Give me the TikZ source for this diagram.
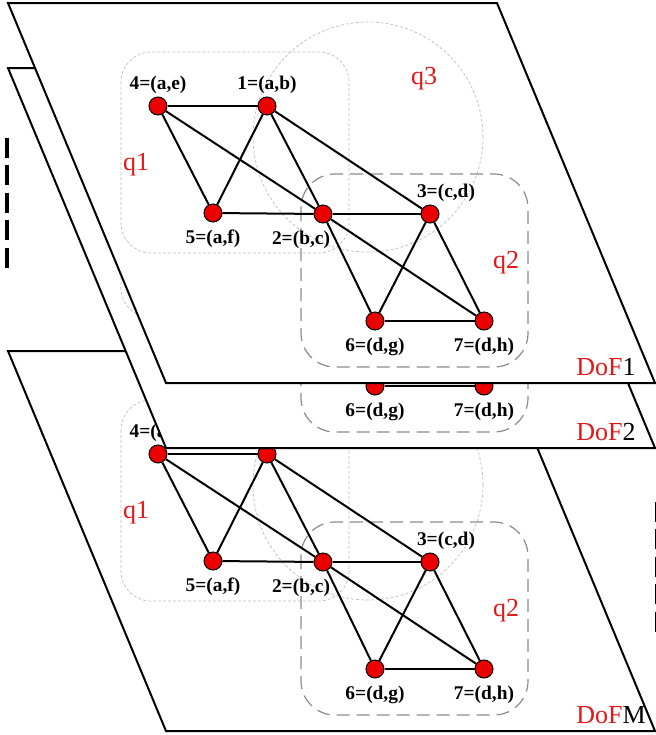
\documentclass[tikz,border=0pt]{standalone}
\usepackage{fontspec}
\setmainfont{Liberation Serif}
\usetikzlibrary{positioning}
\definecolor{vertexred}{RGB}{235,0,0}
\definecolor{qred}{RGB}{225,25,25}
\tikzset{
  layerplane/.style={
    draw=black,
    fill=white,
    line width=1pt
  },
  vertex/.style={
    circle,
    draw=black,
    fill=vertexred,
    line width=0.5pt,
    minimum size=9pt,
    inner sep=0pt
  },
  edgeline/.style={
    line width=1pt
  },
  vlabel/.style={
    font=\bfseries\fontsize{9.7}{11}\selectfont,
    inner sep=1pt
  },
  softregion/.style={
    draw=black!25,
    line width=0.35pt,
    dash pattern=on 1.5pt off 1pt
  },
  hardregion/.style={
    draw=black!45,
    line width=0.6pt,
    dash pattern=on 6.5pt off 3.5pt,
    rounded corners=17pt
  },
  qlabel/.style={
    text=qred,
    font=\fontsize{13}{15}\selectfont,
    inner sep=0pt
  },
  doflabel/.style={
    anchor=west,
    font=\fontsize{13}{15}\selectfont,
    inner sep=0pt
  },
  gapdash/.style={
    line width=1.6pt,
    dash pattern=on 10pt off 3.7pt
  }
}

\begin{document}
\begin{tikzpicture}[x=0.5pt, y=-0.5pt]
  \useasboundingbox (0,0) rectangle (656,735);
  \clip (0,0) rectangle (656,735);
  % layers, lowest first
  \foreach \lay/\dy in {M/348, 2/65, 1/0} {
    \begin{scope}[shift={(0,\dy)}]
      \draw[layerplane] (8,3) -- (497,3) -- (655,383) -- (166,383) -- cycle;
      \draw[softregion, rounded corners=15pt] (121,52) rectangle (349,253);
      \draw[softregion] (368,137) circle[radius=57.5pt];
      \draw[hardregion] (301,174) rectangle (528,367);
      \node[qlabel] (q1-\lay) at (136,165) {q1};
      \node[qlabel] (q3-\lay) at (424,79) {q3};
      \node[qlabel] (q2-\lay) at (506,263) {q2};
      \node[doflabel] (dof-\lay) at (576,367) {\textcolor{qred}{DoF}\lay};
      % vertices
      \node[vertex] (n4-\lay) at (158,106) {};
      \node[vertex] (n1-\lay) at (267,106) {};
      \node[vertex] (n5-\lay) at (213,213) {};
      \node[vertex] (n2-\lay) at (323,214) {};
      \node[vertex] (n3-\lay) at (430,214) {};
      \node[vertex] (n6-\lay) at (375,321) {};
      \node[vertex] (n7-\lay) at (484,321) {};
      \node[vlabel, above=0pt of n4-\lay] (l4-\lay) {4=(a,e)};
      \node[vlabel, above=0pt of n1-\lay] (l1-\lay) {1=(a,b)};
      \node[vlabel, below=2.5pt of n5-\lay] (l5-\lay) {5=(a,f)};
      \node[vlabel, below=2.5pt of n2-\lay, xshift=-11pt] (l2-\lay) {2=(b,c)};
      \node[vlabel, above=0pt of n3-\lay, xshift=8pt] (l3-\lay) {3=(c,d)};
      \node[vlabel, below=2.5pt of n6-\lay] (l6-\lay) {6=(d,g)};
      \node[vlabel, below=2.5pt of n7-\lay] (l7-\lay) {7=(d,h)};
      % edges
      \draw[edgeline] (n4-\lay) -- (n1-\lay);
      \draw[edgeline] (n4-\lay) -- (n5-\lay);
      \draw[edgeline] (n4-\lay) -- (n2-\lay);
      \draw[edgeline] (n1-\lay) -- (n5-\lay);
      \draw[edgeline] (n1-\lay) -- (n2-\lay);
      \draw[edgeline] (n1-\lay) -- (n3-\lay);
      \draw[edgeline] (n5-\lay) -- (n2-\lay);
      \draw[edgeline] (n2-\lay) -- (n3-\lay);
      \draw[edgeline] (n2-\lay) -- (n6-\lay);
      \draw[edgeline] (n2-\lay) -- (n7-\lay);
      \draw[edgeline] (n3-\lay) -- (n6-\lay);
      \draw[edgeline] (n3-\lay) -- (n7-\lay);
      \draw[edgeline] (n6-\lay) -- (n7-\lay);
    \end{scope}
  }
  % dashed marks at the sides
  \coordinate (gapL-top) at (7,138);
  \coordinate (gapL-bot) at (7,273);
  \coordinate (gapR-top) at (657,502);
  \coordinate (gapR-bot) at (657,632);
  \draw[gapdash] (gapL-top) -- (gapL-bot);
  \draw[gapdash] (gapR-top) -- (gapR-bot);
\end{tikzpicture}
\end{document}
